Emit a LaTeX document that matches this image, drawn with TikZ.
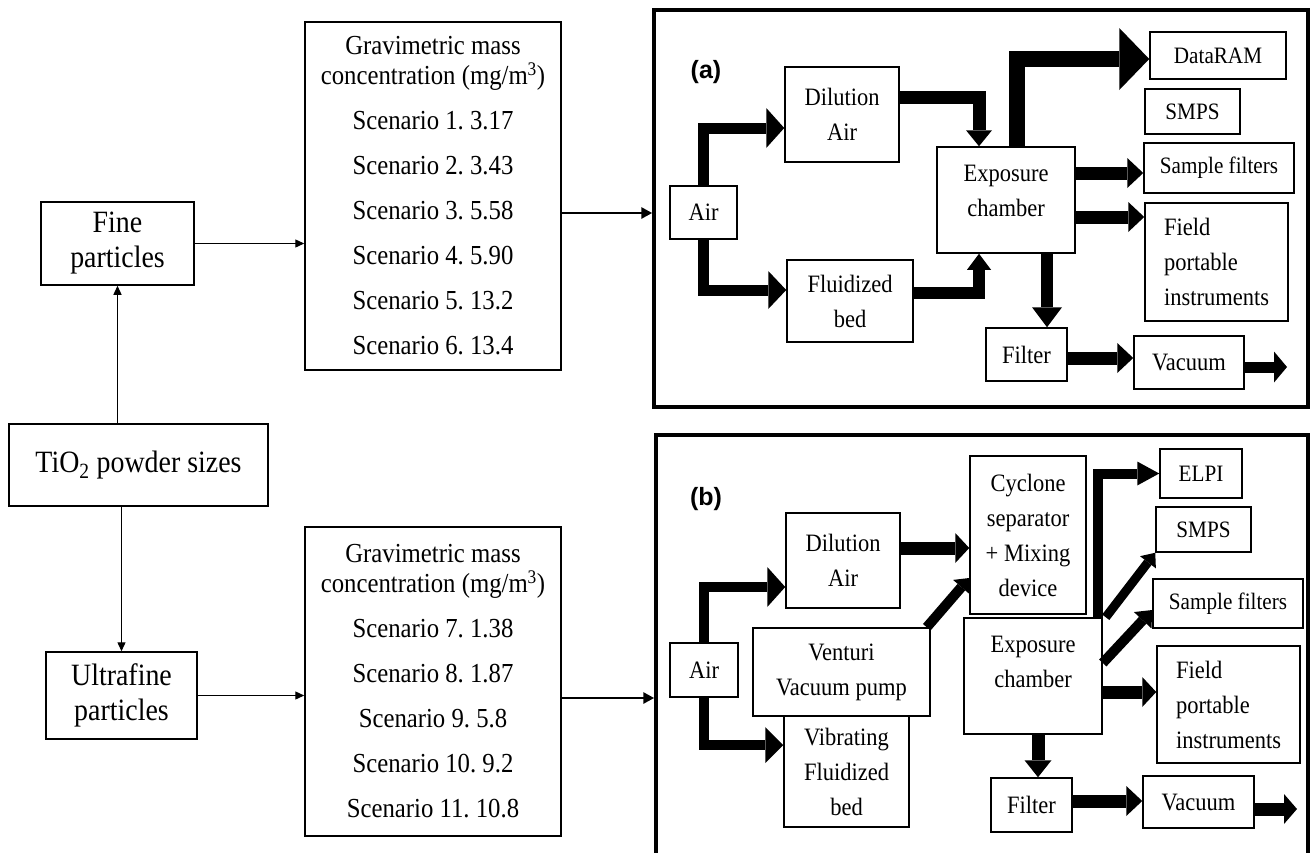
\documentclass[tikz,border=0pt]{standalone}
\usepackage{fontspec}
\setmainfont{Liberation Serif}[FakeStretch=0.9]
\newfontfamily\labfont{Liberation Sans}
\usetikzlibrary{arrows.meta}
\newcommand\fLeft{\fontsize{31pt}{35pt}\selectfont}
\newcommand\fScen{\fontsize{27.5pt}{30pt}\selectfont}
\newcommand\fPanel{\fontsize{25pt}{35pt}\selectfont}
\newcommand\fSmall{\fontsize{23.5pt}{28pt}\selectfont}
\newcommand\fLab{\labfont\bfseries\fontsize{25pt}{27pt}\selectfont}
\frenchspacing
\begin{document}
\begin{tikzpicture}[x=1pt,y=-1pt,
  box/.style={draw=black, line width=1.5pt, inner sep=0pt, align=center},
  frame/.style={draw=black, line width=3.5pt, inner sep=0pt},
  sz/.style 2 args={minimum width=#1, minimum height=#2},
  thinarr/.style={line width=1.3pt, -{Triangle[length=9pt,width=8pt]}},
  medarr/.style={line width=2.8pt, -{Triangle[length=11pt,width=11pt]}},
  fat/.style n args={3}{line width=#1, -{Triangle[length=#2,width=#3,line width=0pt]}},
  lab/.style={font=\fLab, inner sep=0pt}]
\useasboundingbox (0,0) rectangle (1311,852);
\clip (0,0) rectangle (1311,852);
\fill[white] (0,0) rectangle (1311,852);

% frames
\node[frame, sz={654pt}{397pt}] (frA) at (981,208.5) {};
\node[frame, sz={652pt}{435pt}] (frB) at (982,652.5) {};

% left column
\node[box, sz={153pt}{83pt}, font=\fLeft] (fine) at (117.5,243.5) {Fine\\particles};
\node[box, sz={259pt}{82pt}, font=\fLeft] (tio) at (138.5,465) {TiO\textsubscript{2} powder sizes};
\node[box, sz={151pt}{87pt}, font=\fLeft] (ultra) at (121.5,695.5) {Ultrafine\\particles};
\node[box, sz={256pt}{348pt}, font=\fScen] (gA) at (433,196)
  {Gravimetric mass\\concentration (mg/m\textsuperscript{3})\\[15pt]
   Scenario 1. 3.17\\[15pt] Scenario 2. 3.43\\[15pt] Scenario 3. 5.58\\[15pt]
   Scenario 4. 5.90\\[15pt] Scenario 5. 13.2\\[15pt] Scenario 6. 13.4};
\node[box, sz={256pt}{309pt}, font=\fScen] (gB) at (433,681.5)
  {Gravimetric mass\\concentration (mg/m\textsuperscript{3})\\[15pt]
   Scenario 7. 1.38\\[15pt] Scenario 8. 1.87\\[15pt] Scenario 9. 5.8\\[15pt]
   Scenario 10. 9.2\\[15pt] Scenario 11. 10.8};

\draw[thinarr] (tio.north -| fine.south) -- (fine.south);
\draw[thinarr] (tio.south -| ultra.north) -- (ultra.north);
\draw[thinarr] (fine.east) -- (fine.east -| gA.west);
\draw[thinarr] (ultra.east) -- (ultra.east -| gB.west);
\draw[medarr] ([yshift=-17pt]gA.east) -- ([yshift=-17pt]gA.east -| frA.west);
\draw[medarr] ([yshift=-16.5pt]gB.east) -- ([yshift=-16.5pt]gB.east -| frB.west);

% panel (a)
\node[lab] (labA) at (706,72) {(a)};
\node[box, sz={67pt}{53pt}, font=\fPanel] (airA) at (703.5,212.5) {Air};
\node[box, sz={114pt}{95pt}, font=\fPanel] (dilA) at (842,114.5) {Dilution\\Air};
\node[box, sz={126pt}{82pt}, font=\fPanel] (fluA) at (850,301) {Fluidized\\bed};
\node[box, sz={138pt}{106pt}, font=\fPanel, text depth=19pt] (expA) at (1006,200) {Exposure\\chamber};
\node[box, sz={136pt}{47pt}, font=\fSmall] (dataA) at (1218,55.5) {DataRAM};
\node[box, sz={95pt}{45pt}, font=\fSmall] (smpsA) at (1192.5,111.5) {SMPS};
\node[box, sz={150pt}{50pt}, font=\fSmall] (sampA) at (1219,168) {Sample filters};
\node[box, sz={143pt}{118pt}, font=\fPanel, align=left] (fieldA) at (1216.5,262) {Field\\portable\\instruments};
\node[box, sz={81pt}{53pt}, font=\fPanel] (filtA) at (1026.5,354.5) {Filter};
\node[box, sz={110pt}{53pt}, font=\fPanel] (vacA) at (1189,362.5) {Vacuum};
\coordinate (outA) at (1287,367);

\draw[fat={11pt}{18pt}{40pt}] (airA.north) |- ([yshift=-13.5pt]dilA.west);
\draw[fat={11pt}{18pt}{38pt}] (airA.south) |- ([yshift=11pt]fluA.west);
\draw[fat={13pt}{16pt}{26pt}] ([yshift=17.5pt]dilA.east) -| ([xshift=-27pt]expA.north);
\draw[fat={12pt}{16pt}{24pt}] ([yshift=8pt]fluA.east) -| ([xshift=-27pt]expA.south);
\draw[fat={16pt}{30pt}{62pt}] ([xshift=11pt]expA.north) |- ([yshift=-3.5pt]dataA.west);
\draw[fat={13pt}{16pt}{30pt}] ([yshift=27pt]expA.east) -- ([yshift=27pt]expA.east -| sampA.west);
\draw[fat={13pt}{16pt}{30pt}] ([yshift=-17pt]expA.east) -- ([yshift=-17pt]expA.east -| fieldA.west);
\draw[fat={12pt}{20pt}{30pt}] ([xshift=41pt]expA.south) -- ([xshift=41pt]expA.south |- filtA.north);
\draw[fat={13pt}{16pt}{30pt}] ([yshift=-3.5pt]filtA.east) -- ([yshift=-3.5pt]filtA.east -| vacA.west);
\draw[fat={11pt}{13pt}{31pt}] ([yshift=-4.5pt]vacA.east) -- (outA);

% panel (b)
\node[lab] (labB) at (706,499) {(b)};
\node[box, sz={68pt}{54pt}, font=\fPanel] (airB) at (704,670) {Air};
\node[box, sz={114pt}{95pt}, font=\fPanel] (dilB) at (843,560.5) {Dilution\\Air};
\node[box, sz={116pt}{158pt}, font=\fPanel] (cycB) at (1028,535) {Cyclone\\separator\\+ Mixing\\device};
\node[box, sz={82pt}{49pt}, font=\fSmall] (elpiB) at (1201,473.5) {ELPI};
\node[box, sz={95pt}{45pt}, font=\fSmall] (smpsB) at (1203.5,529.5) {SMPS};
\node[box, sz={150pt}{49pt}, font=\fSmall] (sampB) at (1228,603.5) {Sample filters};
\node[box, sz={143pt}{117pt}, font=\fPanel, align=left] (fieldB) at (1228.5,704.5) {Field\\portable\\instruments};
\node[box, sz={177pt}{88pt}, font=\fPanel] (ventB) at (841.5,672) {Venturi\\Vacuum pump};
\node[box, sz={125pt}{111pt}, font=\fPanel] (vibB) at (846.5,771.5) {Vibrating\\Fluidized\\bed};
\node[box, sz={138pt}{116pt}, font=\fPanel, text depth=29pt] (expB) at (1033,676) {Exposure\\chamber};
\node[box, sz={81pt}{54pt}, font=\fPanel] (filtB) at (1031.5,805) {Filter};
\node[box, sz={111pt}{52pt}, font=\fPanel] (vacB) at (1198.5,802) {Vacuum};
\coordinate (outB) at (1297,809);

\draw[fat={10pt}{18pt}{40pt}] (airB.north) |- ([yshift=-26.5pt]dilB.west);
\draw[fat={10pt}{18pt}{36pt}] (airB.south) |- ([yshift=26.5pt]vibB.west);
\draw[fat={13pt}{14pt}{30pt}] ([yshift=12.5pt]dilB.east) -- ([yshift=12.5pt]dilB.east -| cycB.west);
\draw[fat={10pt}{12pt}{22pt}] ([xshift=-4pt]ventB.north east) -- ([yshift=-43pt]cycB.west);
\draw[fat={10pt}{22pt}{24pt}] ([xshift=65pt]expB.north) |- (elpiB.west);
\draw[fat={9pt}{12pt}{20pt}] ([xshift=3pt]expB.north east) -- (smpsB.south west);
\draw[fat={10pt}{14pt}{24pt}] ([yshift=13pt]expB.east) -- ([yshift=-6.5pt]sampB.west);
\draw[fat={13pt}{14pt}{30pt}] ([yshift=-16pt]expB.east) -- ([yshift=-16pt]expB.east -| fieldB.west);
\draw[fat={13pt}{17pt}{27pt}] ([xshift=5pt]expB.south) -- ([xshift=5pt]expB.south |- filtB.north);
\draw[fat={13pt}{16pt}{30pt}] ([yshift=4pt]filtB.east) -- ([yshift=4pt]filtB.east -| vacB.west);
\draw[fat={13pt}{13pt}{30pt}] ([yshift=-7pt]vacB.east) -- (outB);
\end{tikzpicture}
\end{document}
